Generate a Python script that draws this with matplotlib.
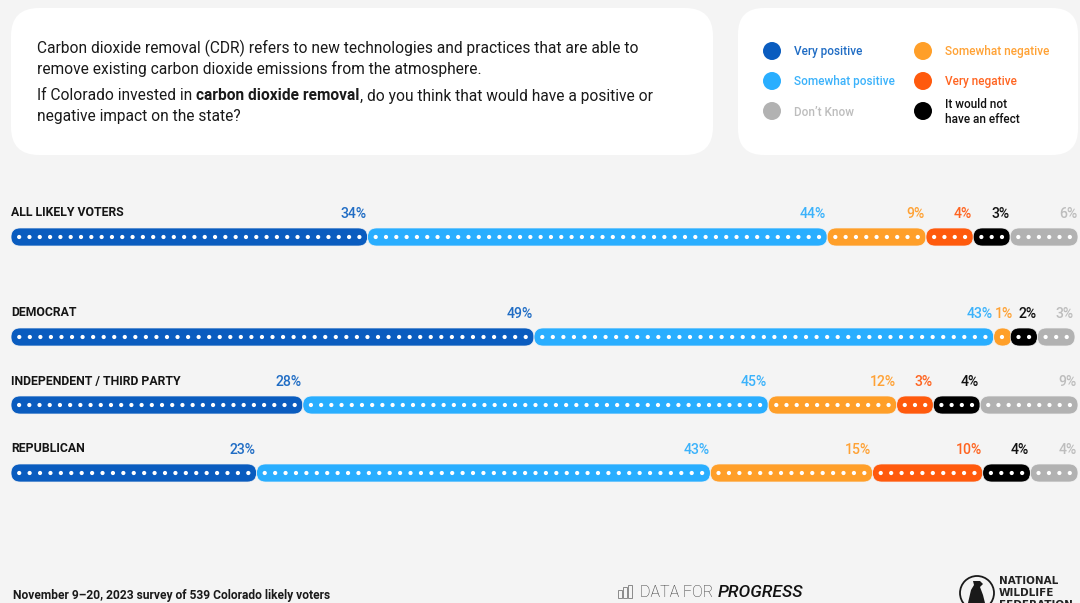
import matplotlib
matplotlib.use("Agg")
import matplotlib.pyplot as plt
from matplotlib.patches import FancyBboxPatch, Circle, Rectangle, Polygon

# Survey results: one list of percentages per group, in stacking order
groups = ["ALL LIKELY VOTERS", "DEMOCRAT", "INDEPENDENT / THIRD PARTY", "REPUBLICAN"]
very_positive = [34, 49, 28, 23]
somewhat_positive = [44, 43, 45, 43]
somewhat_negative = [9, 1, 12, 15]
very_negative = [4, 0, 3, 10]
no_effect = [3, 2, 4, 4]
dont_know = [6, 3, 9, 4]

series = [very_positive, somewhat_positive, somewhat_negative,
          very_negative, no_effect, dont_know]
series_colors = ["#0A5CBF", "#29AEFF", "#FF9F29", "#FF5A0D", "#000000", "#B2B2B2"]
label_colors = ["#1F6CC4", "#3BB2FB", "#FFA235", "#FF6420", "#111111", "#BDBDBD"]

legend_left = [("Very positive", "#0A5CBF", "#1F6CC4"),
               ("Somewhat positive", "#29AEFF", "#3BB2FB"),
               ("Don\u2019t Know", "#B2B2B2", "#BDBDBD")]
legend_right = [("Somewhat negative", "#FF9F29", "#FFA235"),
                ("Very negative", "#FF5A0D", "#FF6420"),
                ("It would not\nhave an effect", "#000000", "#111111")]

BG = "#F4F4F4"
FONT = "Roboto"
plt.rcParams["font.family"] = [FONT, "DejaVu Sans"]

fig = plt.figure(figsize=(10.8, 6.03), dpi=100, facecolor=BG)
ax = fig.add_axes([0, 0, 1, 1])
ax.set_xlim(0, 1080)
ax.set_ylim(603, 0)
ax.axis("off")


def px(size):
    """Font size in points for a size given in pixels."""
    return size * 72 / 100


def card(x0, y0, x1, y1, r):
    ax.add_patch(FancyBboxPatch((x0 + r, y0 + r), x1 - x0 - 2 * r, y1 - y0 - 2 * r,
                                boxstyle=f"round,pad={r},rounding_size={r}",
                                fc="white", ec="none", zorder=1))


card(11, 8, 713, 155, 28)
card(738, 8, 1078, 155, 26)

# Question text
BODY = px(15.55)
ax.text(37, 48, "Carbon dioxide removal (CDR) refers to new technologies and practices that are able to",
        fontsize=BODY, va="center", color="#1A1A1A", zorder=3)
ax.text(37, 69, "remove existing carbon dioxide emissions from the atmosphere.",
        fontsize=BODY, va="center", color="#1A1A1A", zorder=3)

renderer = fig.canvas.get_renderer()
cursor = 37
for piece, weight in [("If Colorado invested in ", "normal"),
                      ("carbon dioxide removal", "bold"),
                      (", do you think that would have a positive or", "normal")]:
    t = ax.text(cursor, 96, piece, fontsize=BODY, va="center", weight=weight,
                color="#1A1A1A", zorder=3)
    cursor += t.get_window_extent(renderer).width
ax.text(37, 117, "negative impact on the state?", fontsize=BODY, va="center",
        color="#1A1A1A", zorder=3)

# Legend
for column, cx, tx in [(legend_left, 772, 794), (legend_right, 923, 945)]:
    for (name, swatch, ink), cy in zip(column, [51, 81, 111]):
        ax.add_patch(Circle((cx, cy), 9, fc=swatch, ec="none", zorder=3))
        ax.text(tx, cy + 1, name, fontsize=px(11.8), va="center",
                color=ink, weight="medium", linespacing=1.2, zorder=3)

# Stacked pill rows: each percentage point is one dot, and a row's pills fill its full span
X0 = 11
row_centers = [237, 337, 405, 473]
row_labels = [214, 314, 382, 450]
row_ends = [1078, 1075, 1078, 1078]
PILL_H = 18
CAP = 6

for i, group in enumerate(groups):
    cy = row_centers[i]
    ax.text(X0, row_labels[i] - 1, group, fontsize=px(12.3), va="center", weight="bold",
            color="#151515", zorder=3)
    values = [s[i] for s in series]
    shown = [v for v in values if v > 0]
    step = (row_ends[i] - X0 - CAP * len(shown)) / sum(shown)
    x = X0
    for value, color, ink in zip(values, series_colors, label_colors):
        if value == 0:
            continue
        w = value * step + CAP
        ax.add_patch(FancyBboxPatch((x + PILL_H / 2, cy - 0.01), max(w - PILL_H, 0.01), 0.02,
                                    boxstyle=f"round,pad={PILL_H / 2},rounding_size={PILL_H / 2}",
                                    fc=color, ec=BG, lw=0.5, zorder=2))
        for d in range(value):
            ax.add_patch(Circle((x + CAP / 2 + step * (d + 0.5), cy), 2.1,
                                fc="white", ec="none", zorder=3))
        # a one-point pill is narrower than its label, so that label hangs past the pill
        label_x = x + w + 3 if value == 1 else x + w - 1
        ax.text(label_x, row_labels[i], f"{value}%", fontsize=px(14), ha="right", va="center",
                weight="medium", color=ink, zorder=3)
        x += w

# Footer
ax.text(13, 595, "November 9\u201320, 2023 survey of 539 Colorado likely voters",
        fontsize=px(12), va="center", weight="bold", color="#1A1A1A", zorder=3)

# Data for Progress wordmark with its small bar icon
for bx, top in [(618, 590), (623, 587), (628, 585)]:
    ax.add_patch(Rectangle((bx, top), 4, 598 - top, fc="none", ec="#8A8A8A", lw=0.7, zorder=3))
ax.text(640, 592.5, "DATA FOR", fontsize=px(16), va="center", color="#333333",
        weight="light", zorder=3)
ax.text(718, 592.5, "PROGRESS", fontsize=px(17.5), va="center", color="#111111",
        style="italic", weight="medium", zorder=3)

# National Wildlife Federation badge, cut by the bottom edge
ax.add_patch(Circle((977, 593), 17, fc="none", ec="#1A1A1A", lw=1.3, zorder=3))
ax.add_patch(Polygon([(968, 603), (971, 590), (974, 585), (973, 581), (980, 581),
                      (983, 584), (980, 587), (983, 595), (985, 603)],
                     fc="#1A1A1A", ec="none", zorder=3))
for line, y in zip(["NATIONAL", "WILDLIFE", "FEDERATION"], [581, 593, 605]):
    ax.text(999, y, line, fontsize=px(10.4), va="center", weight="bold",
            family="DejaVu Sans", color="#222222", zorder=3)

fig.savefig("out.png", dpi=100, facecolor=BG)
